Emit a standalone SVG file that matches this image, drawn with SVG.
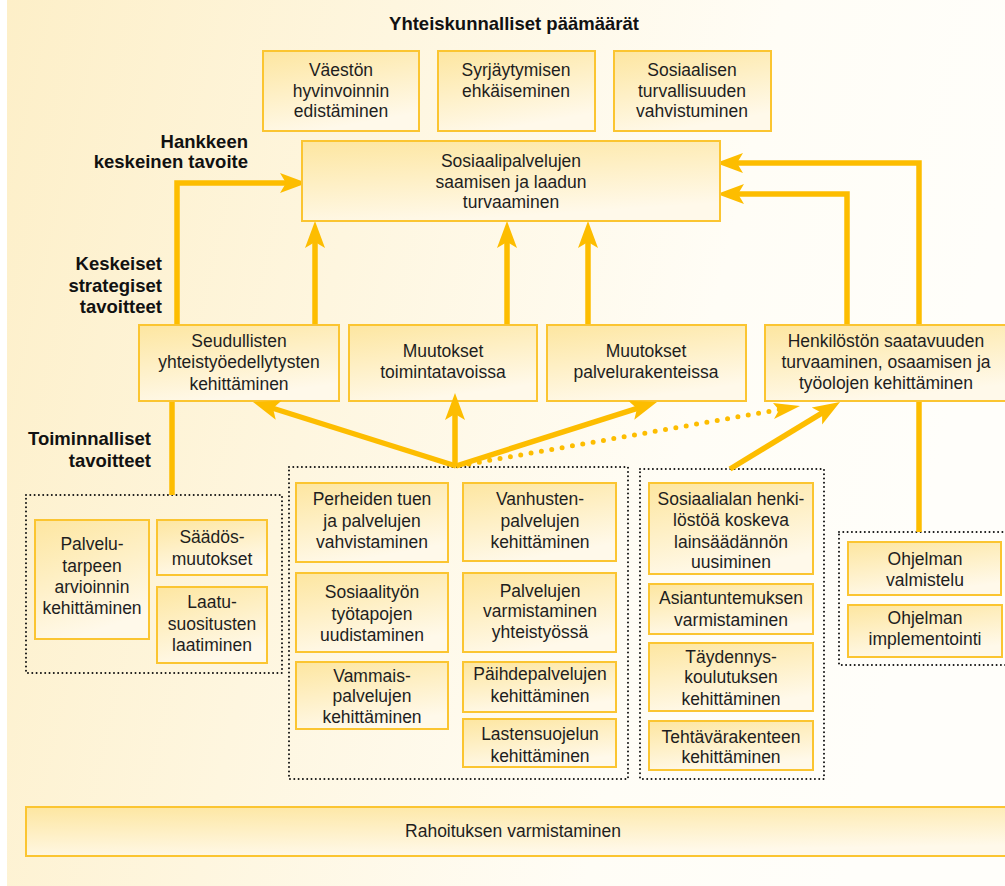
<svg xmlns="http://www.w3.org/2000/svg" width="1005" height="886" viewBox="0 0 1005 886">
<defs>
<linearGradient id="bg" x1="0" y1="0" x2="1" y2="0.2">
<stop offset="0" stop-color="#fdefc8"/>
<stop offset="0.75" stop-color="#fffdf6"/>
<stop offset="1" stop-color="#fffefa"/>
</linearGradient>
<linearGradient id="bx" x1="0" y1="0" x2="0.35" y2="1">
<stop offset="0" stop-color="#fde6a0"/>
<stop offset="1" stop-color="#fff9ea"/>
</linearGradient>
<marker id="ah" markerUnits="userSpaceOnUse" markerWidth="32" markerHeight="24" viewBox="0 -12 32 24" refX="12" refY="0" orient="auto">
<path d="M0,-10 L27,0 L0,10 L6,0 Z" fill="#fdbd00"/>
</marker>
<style>
.box{fill:url(#bx);stroke:#fbc531;stroke-width:2}
.grp{fill:none;stroke:#111;stroke-width:2;stroke-dasharray:0 4.3;stroke-linecap:round}
.t{font-family:"Liberation Sans",Arial,sans-serif;font-size:17.5px;fill:#1e1e1e;text-anchor:middle}
.b{font-family:"Liberation Sans",Arial,sans-serif;font-size:18.5px;font-weight:700;fill:#111}
.r{text-anchor:end}
.c{text-anchor:middle}
.ln{fill:none;stroke:#fdbd00;stroke-width:5.5;stroke-linejoin:miter}
.arr{marker-end:url(#ah)}
.dot{fill:none;stroke:#fdbd00;stroke-width:5;stroke-dasharray:0 10.5;stroke-linecap:round}
</style>
</defs>
<rect x="7" y="0" width="998" height="886" fill="url(#bg)"/>

<g id="labels">
<text class="b c" x="514" y="30">Yhteiskunnalliset päämäärät</text>
<text class="b r" x="248" y="148">Hankkeen</text>
<text class="b r" x="248" y="168">keskeinen tavoite</text>
<text class="b r" x="162" y="270">Keskeiset</text>
<text class="b r" x="162" y="292">strategiset</text>
<text class="b r" x="162" y="313">tavoitteet</text>
<text class="b r" x="151" y="445">Toiminnalliset</text>
<text class="b r" x="151" y="467">tavoitteet</text>
</g>

<g id="groups">
<rect class="grp" x="26" y="495" width="256" height="178"/>
<rect class="grp" x="289" y="467" width="339" height="312"/>
<rect class="grp" x="640" y="469" width="184" height="310"/>
<rect class="grp" x="839" y="532" width="180" height="133"/>
</g>

<g id="connectors">
<path class="ln arr" d="M177,325 V183 H292"/>
<path class="ln arr" d="M315,325 V236"/>
<path class="ln arr" d="M507,325 V236"/>
<path class="ln arr" d="M588,325 V236"/>
<path class="ln arr" d="M847,325 V194 H732"/>
<path class="ln arr" d="M919,325 V163 H731"/>
<path class="ln" d="M919,532 V401"/>
<path class="ln" d="M172,401 V495"/>
</g>

<g id="n-vaeston">
<rect class="box" x="263" y="51" width="156" height="80"/>
<text class="t" x="341" y="76">Väestön</text>
<text class="t" x="341" y="97">hyvinvoinnin</text>
<text class="t" x="341" y="117">edistäminen</text>
</g>
<g id="n-syrjaytymisen">
<rect class="box" x="438" y="51" width="157" height="80"/>
<text class="t" x="516" y="76">Syrjäytymisen</text>
<text class="t" x="516" y="97">ehkäiseminen</text>
</g>
<g id="n-sosiaalisen">
<rect class="box" x="614" y="51" width="157" height="80"/>
<text class="t" x="692" y="76">Sosiaalisen</text>
<text class="t" x="692" y="97">turvallisuuden</text>
<text class="t" x="692" y="117">vahvistuminen</text>
</g>
<g id="n-main">
<rect class="box" x="302" y="141" width="418" height="80"/>
<text class="t" x="511" y="167">Sosiaalipalvelujen</text>
<text class="t" x="511" y="188">saamisen ja laadun</text>
<text class="t" x="511" y="208">turvaaminen</text>
</g>

<g id="n-seudullisten">
<rect class="box" x="139" y="325" width="200" height="76"/>
<text class="t" x="239" y="347">Seudullisten</text>
<text class="t" x="239" y="368">yhteistyöedellytysten</text>
<text class="t" x="239" y="390">kehittäminen</text>
</g>
<g id="n-toimintatavoissa">
<rect class="box" x="349" y="325" width="188" height="76"/>
<text class="t" x="443" y="357">Muutokset</text>
<text class="t" x="443" y="378">toimintatavoissa</text>
</g>
<g id="n-palvelurakenteissa">
<rect class="box" x="547" y="325" width="199" height="76"/>
<text class="t" x="646" y="357">Muutokset</text>
<text class="t" x="646" y="378">palvelurakenteissa</text>
</g>
<g id="n-henkiloston">
<rect class="box" x="765" y="325" width="250" height="76"/>
<text class="t" x="886" y="347">Henkilöstön saatavuuden</text>
<text class="t" x="886" y="368">turvaaminen, osaamisen ja</text>
<text class="t" x="886" y="389">työolojen kehittäminen</text>
</g>

<g id="n-palvelutarpeen">
<rect class="box" x="35" y="520" width="114" height="119"/>
<text class="t" x="92" y="550">Palvelu-</text>
<text class="t" x="92" y="572">tarpeen</text>
<text class="t" x="92" y="593">arvioinnin</text>
<text class="t" x="92" y="614">kehittäminen</text>
</g>
<g id="n-saados">
<rect class="box" x="157" y="520" width="110" height="55"/>
<text class="t" x="212" y="543">Säädös-</text>
<text class="t" x="212" y="565">muutokset</text>
</g>
<g id="n-laatu">
<rect class="box" x="157" y="587" width="110" height="76"/>
<text class="t" x="212" y="608">Laatu-</text>
<text class="t" x="212" y="630">suositusten</text>
<text class="t" x="212" y="651">laatiminen</text>
</g>

<g id="n-perheiden">
<rect class="box" x="296" y="483" width="152" height="79"/>
<text class="t" x="372" y="505">Perheiden tuen</text>
<text class="t" x="372" y="527">ja palvelujen</text>
<text class="t" x="372" y="548">vahvistaminen</text>
</g>
<g id="n-sosiaalityon">
<rect class="box" x="296" y="573" width="152" height="79"/>
<text class="t" x="372" y="598">Sosiaalityön</text>
<text class="t" x="372" y="620">työtapojen</text>
<text class="t" x="372" y="641">uudistaminen</text>
</g>
<g id="n-vammais">
<rect class="box" x="296" y="662" width="152" height="67"/>
<text class="t" x="372" y="682">Vammais-</text>
<text class="t" x="372" y="702">palvelujen</text>
<text class="t" x="372" y="723">kehittäminen</text>
</g>
<g id="n-vanhusten">
<rect class="box" x="463" y="483" width="153" height="78"/>
<text class="t" x="540" y="505">Vanhusten-</text>
<text class="t" x="540" y="527">palvelujen</text>
<text class="t" x="540" y="548">kehittäminen</text>
</g>
<g id="n-varmistaminen">
<rect class="box" x="463" y="573" width="153" height="79"/>
<text class="t" x="540" y="597">Palvelujen</text>
<text class="t" x="540" y="617">varmistaminen</text>
<text class="t" x="540" y="638">yhteistyössä</text>
</g>
<g id="n-paihde">
<rect class="box" x="463" y="662" width="153" height="50"/>
<text class="t" x="540" y="680">Päihdepalvelujen</text>
<text class="t" x="540" y="702">kehittäminen</text>
</g>
<g id="n-lastensuojelu">
<rect class="box" x="463" y="719" width="153" height="48"/>
<text class="t" x="540" y="740">Lastensuojelun</text>
<text class="t" x="540" y="762">kehittäminen</text>
</g>

<g id="n-sosiaalialan">
<rect class="box" x="649" y="483" width="164" height="91"/>
<text class="t" x="731" y="505">Sosiaalialan henki-</text>
<text class="t" x="731" y="526">löstöä koskeva</text>
<text class="t" x="731" y="548">lainsäädännön</text>
<text class="t" x="731" y="568">uusiminen</text>
</g>
<g id="n-asiantuntemus">
<rect class="box" x="649" y="584" width="164" height="50"/>
<text class="t" x="731" y="604">Asiantuntemuksen</text>
<text class="t" x="731" y="626">varmistaminen</text>
</g>
<g id="n-taydennys">
<rect class="box" x="649" y="643" width="164" height="68"/>
<text class="t" x="731" y="663">Täydennys-</text>
<text class="t" x="731" y="683">koulutuksen</text>
<text class="t" x="731" y="705">kehittäminen</text>
</g>
<g id="n-tehtava">
<rect class="box" x="649" y="721" width="164" height="49"/>
<text class="t" x="731" y="743">Tehtävärakenteen</text>
<text class="t" x="731" y="763">kehittäminen</text>
</g>

<g id="n-valmistelu">
<rect class="box" x="848" y="542" width="153" height="53"/>
<text class="t" x="925" y="565">Ohjelman</text>
<text class="t" x="925" y="586">valmistelu</text>
</g>
<g id="n-implementointi">
<rect class="box" x="848" y="605" width="154" height="52"/>
<text class="t" x="925" y="624">Ohjelman</text>
<text class="t" x="925" y="645">implementointi</text>
</g>

<g id="n-rahoitus">
<rect class="box" x="26" y="807" width="990" height="49"/>
<text class="t" x="513" y="837">Rahoituksen varmistaminen</text>
</g>

<g id="connectors-lower">
<path class="ln arr" d="M456,466 L267.3,406.5"/>
<path class="ln arr" d="M455,466 V408"/>
<path class="ln arr" d="M456,466 L642.7,406.6"/>
<path class="dot" d="M469,464 L785,408.6"/>
<path d="M773,403 L800,406 L774,419 L779,410 Z" fill="#fdbd00"/>
<path class="ln arr" d="M730,469 L827.2,409.8"/>
</g>
</svg>
